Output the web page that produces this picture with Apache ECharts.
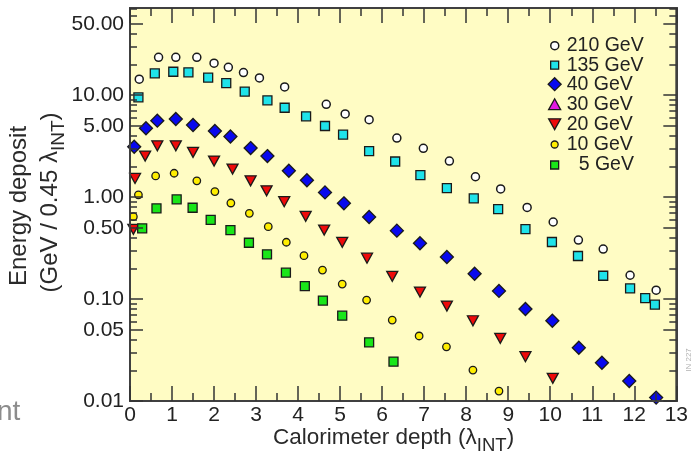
<!DOCTYPE html>
<html>
<head>
<meta charset="utf-8">
<script src="https://cdn.jsdelivr.net/npm/echarts@6/dist/echarts.min.js"></script>
<style>
html,body{margin:0;padding:0;background:#ffffff;}
#chart{width:691px;height:460px;}
</style>
</head>
<body>
<div id="chart"></div>
<script>
// ---- data (depth in lambda_INT, energy deposit in GeV / 0.45 lambda_INT) ----
const depth210  = [0.22,0.68,1.09,1.59,2.00,2.34,2.70,3.08,3.68,4.67,5.12,5.69,6.35,6.98,7.60,8.22,8.82,9.45,10.07,10.67,11.26,11.90,12.52];
const energy210 = [14.3,23.4,23.4,23.4,20.5,18.7,16.6,14.7,12.0,8.11,6.52,5.73,3.78,3.00,2.25,1.58,1.20,0.79,0.569,0.378,0.309,0.171,0.122];

const depth135  = [0.20,0.59,1.03,1.39,1.86,2.29,2.73,3.27,3.68,4.19,4.64,5.07,5.69,6.31,6.91,7.54,8.18,8.76,9.41,10.04,10.66,11.26,11.90,12.26,12.49];
const energy135 = [9.49,16.3,16.9,16.7,14.8,13.1,10.8,8.87,7.50,6.18,4.97,4.08,2.82,2.23,1.64,1.22,0.97,0.762,0.485,0.362,0.264,0.169,0.127,0.102,0.088];

const depth40   = [0.10,0.38,0.65,1.09,1.50,2.02,2.39,2.87,3.27,3.78,4.21,4.64,5.09,5.69,6.35,6.90,7.54,8.20,8.78,9.41,10.05,10.68,11.23,11.88,12.52];
const energy40  = [3.11,4.72,5.60,5.82,5.08,4.44,3.92,3.02,2.52,1.81,1.46,1.11,0.867,0.637,0.468,0.352,0.258,0.177,0.120,0.0798,0.0612,0.0333,0.0237,0.0157,0.0108];

const depth30   = [];
const energy30  = [];

const depth20   = [0.08,0.12,0.36,0.65,1.09,1.50,2.00,2.44,2.87,3.25,3.67,4.18,4.62,5.05,5.64,6.24,6.90,7.54,8.16,8.81,9.41,10.06];
const energy20  = [0.482,1.52,2.52,3.18,3.18,2.74,2.25,1.88,1.44,1.15,0.899,0.647,0.474,0.360,0.251,0.167,0.117,0.0853,0.0612,0.0412,0.0272,0.0167];

const depth10   = [0.08,0.20,0.61,1.05,1.59,2.02,2.40,2.84,3.29,3.72,4.14,4.58,5.05,5.63,6.24,6.88,7.53,8.16,8.78];
const energy10  = [0.641,1.05,1.61,1.71,1.44,1.13,0.873,0.692,0.512,0.360,0.266,0.192,0.140,0.0977,0.0622,0.0434,0.0340,0.0201,0.0125];

const depth5    = [0.29,0.63,1.11,1.49,1.92,2.39,2.83,3.26,3.71,4.16,4.59,5.05,5.69,6.27];
const energy5   = [0.493,0.774,0.948,0.785,0.596,0.474,0.356,0.274,0.181,0.134,0.0966,0.0686,0.0376,0.0243];

const seriesNames = ['210 GeV','135 GeV','40 GeV','30 GeV','20 GeV','10 GeV','5 GeV'];

const xMin = 0, xMax = 13;
const yMin = 0.01, yMax = 71.3;
const yMajorTicks  = [0.01,0.05,0.1,0.5,1,5,10,50];
const yTickLabels  = ['0.01','0.05','0.10','0.50','1.00','5.00','10.00','50.00'];
const yMinorTicks  = [0.02,0.03,0.04,0.06,0.07,0.08,0.09,0.2,0.3,0.4,0.6,0.7,0.8,0.9,2,3,4,6,7,8,9,20,30,40,60,70];

const xAxisTitle = 'Calorimeter depth (λ';
const xAxisTitleSub = 'INT';
const yAxisTitle1 = 'Energy deposit';
const yAxisTitle2 = '(GeV / 0.45 λ';

// ---- styling ----
const FONT = '"Liberation Sans", Arial, Helvetica, sans-serif';
const INK = '#222222';
const EDGE = '#1a1a1a';
const FRAME = '#404040';
const TICK = '#333333';

function pairs(xs, ys) { return xs.map((x, i) => [x, ys[i]]); }

const styles = {
  '210 GeV': {symbol:'circle',  size:8,       color:'#ffffff', bw:1.5, rot:0,   leg:8,  icon:'circle'},
  '135 GeV': {symbol:'rect',    size:9,       color:'#1fe3ea', bw:1.3, rot:0,   leg:8,  icon:'rect'},
  '40 GeV':  {symbol:'diamond', size:13,      color:'#0808ee', bw:1.3, rot:0,   leg:13, icon:'diamond'},
  '30 GeV':  {symbol:'triangle',size:[11,10], color:'#e21be2', bw:1.3, rot:0,   leg:12, icon:'path://M5,0L10,9L0,9Z'},
  '20 GeV':  {symbol:'triangle',size:[11,10], color:'#ee0a0a', bw:1.3, rot:180, leg:12, icon:'path://M0,0L10,0L5,9Z'},
  '10 GeV':  {symbol:'circle',  size:7.5,     color:'#ffee00', bw:1.3, rot:0,   leg:7,  icon:'circle'},
  '5 GeV':   {symbol:'rect',    size:9,       color:'#19e619', bw:1.3, rot:0,   leg:8,  icon:'rect'}
};
const seriesData = {
  '210 GeV': pairs(depth210, energy210),
  '135 GeV': pairs(depth135, energy135),
  '40 GeV':  pairs(depth40, energy40),
  '30 GeV':  pairs(depth30, energy30),
  '20 GeV':  pairs(depth20, energy20),
  '10 GeV':  pairs(depth10, energy10),
  '5 GeV':   pairs(depth5, energy5)
};

const series = seriesNames.map(n => ({
  name: n, type: 'scatter', xAxisIndex: 0, yAxisIndex: 0,
  symbol: styles[n].symbol, symbolSize: styles[n].size, symbolRotate: styles[n].rot,
  itemStyle: {color: styles[n].color, borderColor: EDGE, borderWidth: styles[n].bw, opacity: 1},
  data: seriesData[n]
}));

const legendIconX = 554, legendTextX = 566;
const legendRowsY = [45.7, 65.2, 84.2, 104.2, 124.2, 144.5, 165];
const legends = seriesNames.map((n, i) => {
  const s = styles[n];
  const w = s.leg;
  let padLeft = legendTextX - (legendIconX + w / 2 + 5);
  if (n === '5 GeV') padLeft += 12;
  return {
    data: [{name: n, icon: s.icon}], orient: 'vertical',
    left: legendIconX - w / 2, top: legendRowsY[i] - 10,
    padding: 0, itemGap: 0, itemWidth: w, itemHeight: w,
    selectedMode: false,
    itemStyle: {color: s.color, borderColor: EDGE, borderWidth: s.bw},
    textStyle: {fontSize: 19.5, color: INK, fontFamily: FONT, lineHeight: 20, padding: [0, 0, 0, padLeft]}
  };
});

function axisLineStyle() { return {show: true, onZero: false, lineStyle: {color: FRAME, width: 2}}; }
function tickStyle() { return {color: TICK, width: 1.5}; }
function yAxisDef(pos, ticks, len, labels) {
  return {
    type: 'log', min: yMin, max: yMax, position: pos, gridIndex: 0, z: 6,
    axisLine: axisLineStyle(),
    splitLine: {show: false},
    axisTick: {show: true, inside: true, length: len, customValues: ticks, lineStyle: tickStyle()},
    minorTick: {show: false},
    axisLabel: labels ? {
      show: true, customValues: ticks, margin: 6, fontSize: 21, color: INK, fontFamily: FONT,
      formatter: v => {
        const k = yMajorTicks.findIndex(t => Math.abs(Math.log10(t) - Math.log10(v)) < 1e-6);
        return k >= 0 ? yTickLabels[k] : '';
      }
    } : {show: false}
  };
}
function xAxisDef(pos, labels) {
  return {
    type: 'value', min: xMin, max: xMax, interval: 1, position: pos, gridIndex: 0, z: 6,
    axisLine: axisLineStyle(), splitLine: {show: false},
    axisTick: {show: true, inside: true, length: 15, lineStyle: tickStyle()},
    minorTick: {show: true, splitNumber: 2, length: 8, lineStyle: tickStyle()},
    axisLabel: labels ? {show: true, margin: 4, fontSize: 21, color: INK, fontFamily: FONT} : {show: false}
  };
}

const option = {
  animation: false,
  textStyle: {fontFamily: FONT},
  grid: {left: 130, right: 14, top: 8, bottom: 59, show: true,
         backgroundColor: '#fffcc4', borderColor: FRAME, borderWidth: 2},
  xAxis: [xAxisDef('bottom', true), xAxisDef('top', false)],
  yAxis: [
    yAxisDef('left', yMajorTicks, 13, true),
    yAxisDef('left', yMinorTicks, 7, false),
    yAxisDef('right', yMajorTicks, 13, false),
    yAxisDef('right', yMinorTicks, 7, false)
  ],
  legend: legends,
  series: series,
  graphic: [
    {type: 'text', left: 273, top: 426, silent: true,
     style: {text: xAxisTitle + '{sub|' + xAxisTitleSub + '})', fontSize: 22.5, fill: '#2a2a2a', fontFamily: FONT,
       rich: {sub: {fontSize: 18.5, fontFamily: FONT, fill: '#2a2a2a', padding: [17, 0, 0, 0]}}}},
    {type: 'text', x: 19, y: 206, rotation: Math.PI / 2, silent: true,
     style: {text: yAxisTitle1, fontSize: 24, fill: '#2a2a2a', fontFamily: FONT, align: 'center', verticalAlign: 'middle'}},
    {type: 'text', x: 50, y: 202.5, rotation: Math.PI / 2, silent: true,
     style: {text: yAxisTitle2 + '{sub|INT})', fontSize: 24, fill: '#2a2a2a', fontFamily: FONT, align: 'center', verticalAlign: 'middle',
       rich: {sub: {fontSize: 19, fontFamily: FONT, fill: '#2a2a2a', padding: [17, 0, 0, 0]}}}},
    {type: 'text', x: -3, y: 398, silent: true,
     style: {text: 'nt', fontSize: 28, fill: '#8c8c8c', fontFamily: FONT, verticalAlign: 'alphabetic'}},
    {type: 'text', x: 689, y: 360, rotation: Math.PI / 2, silent: true,
     style: {text: 'IN 227', fontSize: 8, fill: '#b0b0b0', fontFamily: FONT, align: 'center', verticalAlign: 'middle'}}
  ]
};

const chart = echarts.init(document.getElementById('chart'), null, {renderer: 'canvas'});
chart.setOption(option);
</script>
</body>
</html>
